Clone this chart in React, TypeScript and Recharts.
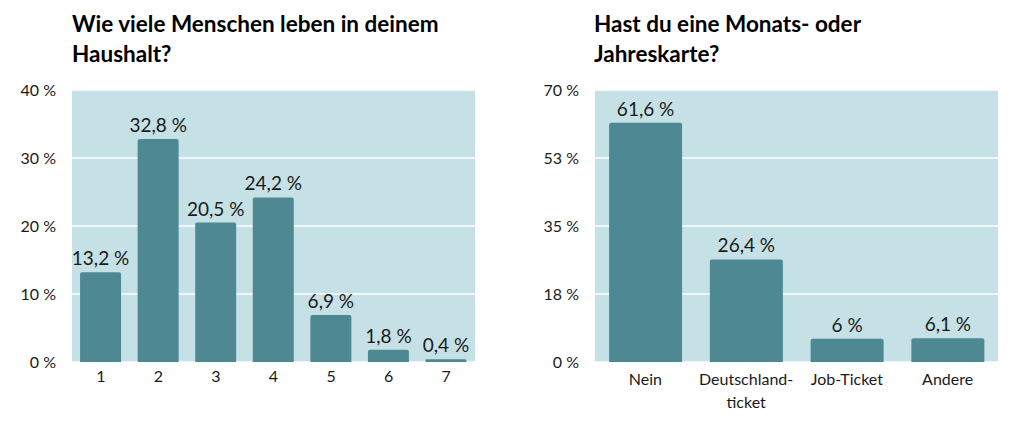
import { BarChart, Bar, XAxis, YAxis, CartesianGrid, LabelList } from 'recharts';

// Haushaltsgröße
const householdSizes = ['1', '2', '3', '4', '5', '6', '7'];
const householdShares = [13.2, 32.8, 20.5, 24.2, 6.9, 1.8, 0.4];
const householdTicks = [0, 10, 20, 30, 40];

// Monats- oder Jahreskarte
const ticketTypes = ['Nein', 'Deutschland-\nticket', 'Job-Ticket', 'Andere'];
const ticketShares = [61.6, 26.4, 6, 6.1];
const ticketTicks = [0, 17.5, 35, 52.5, 70];

const FONT = 'Lato, "Open Sans", sans-serif';
const BAR_COLOR = '#4e8893';
const PLOT_BG = '#c6e1e6';
const TEXT = '#1a1a1a';

const householdData = householdSizes.map((name, i) => ({ name, value: householdShares[i] }));
const ticketData = ticketTypes.map((name, i) => ({ name, value: ticketShares[i] }));

const fmtValue = (v: any) => String(v).replace('.', ',') + ' %';
const fmtTick = (v: number) => Math.round(v) + ' %';

// eigenes Label, damit der Text nicht umbricht
function ValueLabel({ x, y, width, value }: any) {
  return (
    <text x={x + width / 2} y={y - 7} textAnchor="middle" fill={TEXT} fontSize={19} fontFamily={FONT}>
      {fmtValue(value)}
    </text>
  );
}

function MultiLineTick({ x, y, payload }: any) {
  const lines = String(payload.value).split('\n');
  return (
    <text x={x} y={y} textAnchor="middle" fill={TEXT} fontSize={16} fontFamily={FONT}>
      {lines.map((line, i) => (
        <tspan key={i} x={x} dy={i === 0 ? 15 : 23}>
          {line}
        </tspan>
      ))}
    </text>
  );
}

function Title({ left, lines }: { left: number; lines: string[] }) {
  return (
    <div
      style={{
        position: 'absolute',
        left,
        top: 9,
        fontFamily: FONT,
        fontWeight: 700,
        fontSize: 22.5,
        lineHeight: '30px',
        color: '#000',
        whiteSpace: 'nowrap',
      }}
    >
      {lines.map((l) => (
        <div key={l}>{l}</div>
      ))}
    </div>
  );
}

const tickStyle = { fontSize: 16, fill: TEXT, fontFamily: FONT };

export default function App() {
  return (
    <div style={{ position: 'absolute', left: 0, top: 0, width: 1024, height: 424, background: '#fff' }}>
      <Title left={72} lines={['Wie viele Menschen leben in deinem', 'Haushalt?']} />
      <Title left={594} lines={['Hast du eine Monats- oder', 'Jahreskarte?']} />

      <div style={{ position: 'absolute', left: 0, top: 0 }}>
        <BarChart
          width={512}
          height={424}
          data={householdData}
          margin={{ top: 90, right: 37, bottom: 32, left: 12 }}
          barCategoryGap="14%"
        >
          <CartesianGrid vertical={false} fill={PLOT_BG} stroke="#ffffff" strokeWidth={1.5} />
          <XAxis dataKey="name" axisLine={false} tickLine={false} tickSize={0} tickMargin={9} tick={tickStyle} />
          <YAxis
            width={60}
            domain={[0, 40]}
            ticks={householdTicks}
            axisLine={false}
            tickLine={false}
            tickSize={0}
            tickMargin={16}
            tickFormatter={fmtTick}
            tick={tickStyle}
          />
          <Bar dataKey="value" fill={BAR_COLOR} radius={[2, 2, 0, 0]} isAnimationActive={false}>
            <LabelList dataKey="value" content={<ValueLabel />} />
          </Bar>
        </BarChart>
      </div>

      <div style={{ position: 'absolute', left: 512, top: 0 }}>
        <BarChart
          width={512}
          height={424}
          data={ticketData}
          margin={{ top: 90, right: 26, bottom: 32, left: 23 }}
          barCategoryGap="14%"
        >
          <CartesianGrid vertical={false} fill={PLOT_BG} stroke="#ffffff" strokeWidth={1.5} />
          <XAxis dataKey="name" axisLine={false} tickLine={false} interval={0} tick={<MultiLineTick />} />
          <YAxis
            width={60}
            domain={[0, 70]}
            ticks={ticketTicks}
            axisLine={false}
            tickLine={false}
            tickSize={0}
            tickMargin={16}
            tickFormatter={fmtTick}
            tick={tickStyle}
          />
          <Bar dataKey="value" fill={BAR_COLOR} radius={[2, 2, 0, 0]} isAnimationActive={false}>
            <LabelList dataKey="value" content={<ValueLabel />} />
          </Bar>
        </BarChart>
      </div>
    </div>
  );
}
